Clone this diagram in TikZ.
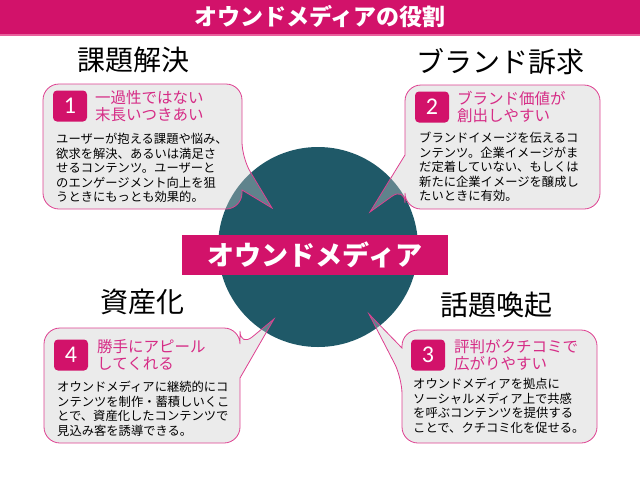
\documentclass[tikz,border=0pt]{standalone}
\usepackage{fontspec}
\setmainfont{Noto Sans CJK JP}
\newfontfamily\numfont{Carlito}
\usepackage{tikz}

\definecolor{mypink}{RGB}{210,18,106}
\definecolor{barline}{RGB}{232,96,156}
\definecolor{headpink}{RGB}{214,44,134}
\definecolor{calloutline}{RGB}{222,64,144}
\definecolor{calloutfill}{RGB}{202,202,202}
\definecolor{teal}{RGB}{31,89,104}

\tikzset{
  callout/.style={draw=calloutline, line width=0.8pt, fill=calloutfill, fill opacity=0.375},
  numbox/.style={fill=mypink, rounded corners=4pt, minimum width=34pt, minimum height=31pt,
    inner sep=0pt, text=white, font=\numfont\fontsize{24}{24}\selectfont},
  headline/.style={anchor=west, align=left, inner sep=0pt, text=headpink,
    font=\fontsize{15.5}{17.5}\selectfont},
  bodytext/.style={anchor=north west, align=left, inner sep=0pt,
    font=\fontsize{12.3}{14.5}\selectfont},
  heading/.style={font=\fontsize{28}{28}\selectfont}
}

\begin{document}
\begin{tikzpicture}[x=1pt, y=-1pt]
  \useasboundingbox (0,0) rectangle (640,480);

  % title bar
  \fill[mypink] (0,0) rectangle (640,34);
  \fill[barline] (0,34) rectangle (640,36);
  \node[text=white, font=\bfseries\fontsize{23}{23}\selectfont] (title) at (320,17) {オウンドメディアの役割};

  % center
  \fill[teal] (318,247) circle (100);
  \node[fill=mypink, minimum width=266pt, minimum height=40pt, inner sep=0pt,
    text=white, font=\bfseries\fontsize{27}{27}\selectfont] (media) at (315,255) {オウンドメディア};

  \coordinate (tip1) at (272,208);
  \coordinate (tip2) at (370,212);
  \coordinate (tip3) at (369,314);
  \coordinate (tip4) at (274,319);

  % callouts
  \draw[callout, rounded corners=16pt] (140,84) -- (242,84) -- (242,158) [sharp corners] -- (tip1)
    -- (242,190) [rounded corners=16pt] -- (242,209) -- (43,209) -- (43,84) -- cycle;
  \draw[callout, rounded corners=16pt] (500,85) -- (600,85) -- (600,209) -- (405,209) -- (405,187)
    [sharp corners] -- (tip2) -- (405,155) [rounded corners=16pt] -- (405,85) -- cycle;
  \draw[callout, rounded corners=16pt] (500,330) -- (597,330) -- (597,443) -- (402,443) -- (402,378)
    [sharp corners] -- (tip3) -- (402,348) [rounded corners=16pt] -- (402,330) -- cycle;
  \draw[callout, rounded corners=16pt] (140,328) -- (240,328) -- (240,347) [sharp corners] -- (tip4)
    -- (240,378) [rounded corners=16pt] -- (240,443) -- (44,443) -- (44,328) -- cycle;

  % headings
  \node[heading] (h1) at (133,60) {課題解決};
  \node[heading] (h2) at (500,62) {ブランド訴求};
  \node[heading] (h4) at (142,302) {資産化};
  \node[heading] (h3) at (496,305) {話題喚起};

  % box 1
  \node[numbox] (n1) at (70,106) {1};
  \node[headline] (t1) at (95,106) {一過性ではない\\末長いつきあい};
  \node[bodytext] (b1) at (56,133) {ユーザーが抱える課題や悩み、\\欲求を解決、あるいは満足さ\\せるコンテンツ。ユーザーと\\のエンゲージメント向上を狙\\うときにもっとも効果的。};

  % box 2
  \node[numbox] (n2) at (432,107) {2};
  \node[headline] (t2) at (457,107) {ブランド価値が\\創出しやすい};
  \node[bodytext] (b2) at (419,132) {ブランドイメージを伝えるコ\\ンテンツ。企業イメージがま\\だ定着していない、もしくは\\新たに企業イメージを醸成し\\たいときに有効。};

  % box 3
  \node[numbox] (n3) at (428,355) {3};
  \node[headline] (t3) at (454,355) {評判がクチコミで\\広がりやすい};
  \node[bodytext] (b3) at (413,378) {オウンドメディアを拠点に\\ソーシャルメディア上で共感\\を呼ぶコンテンツを提供する\\ことで、クチコミ化を促せる。};

  % box 4
  \node[numbox] (n4) at (71,355) {4};
  \node[headline] (t4) at (97,355) {勝手にアピール\\してくれる};
  \node[bodytext] (b4) at (57,381) {オウンドメディアに継続的にコ\\ンテンツを制作・蓄積しいくこ\\とで、資産化したコンテンツで\\見込み客を誘導できる。};
\end{tikzpicture}
\end{document}
